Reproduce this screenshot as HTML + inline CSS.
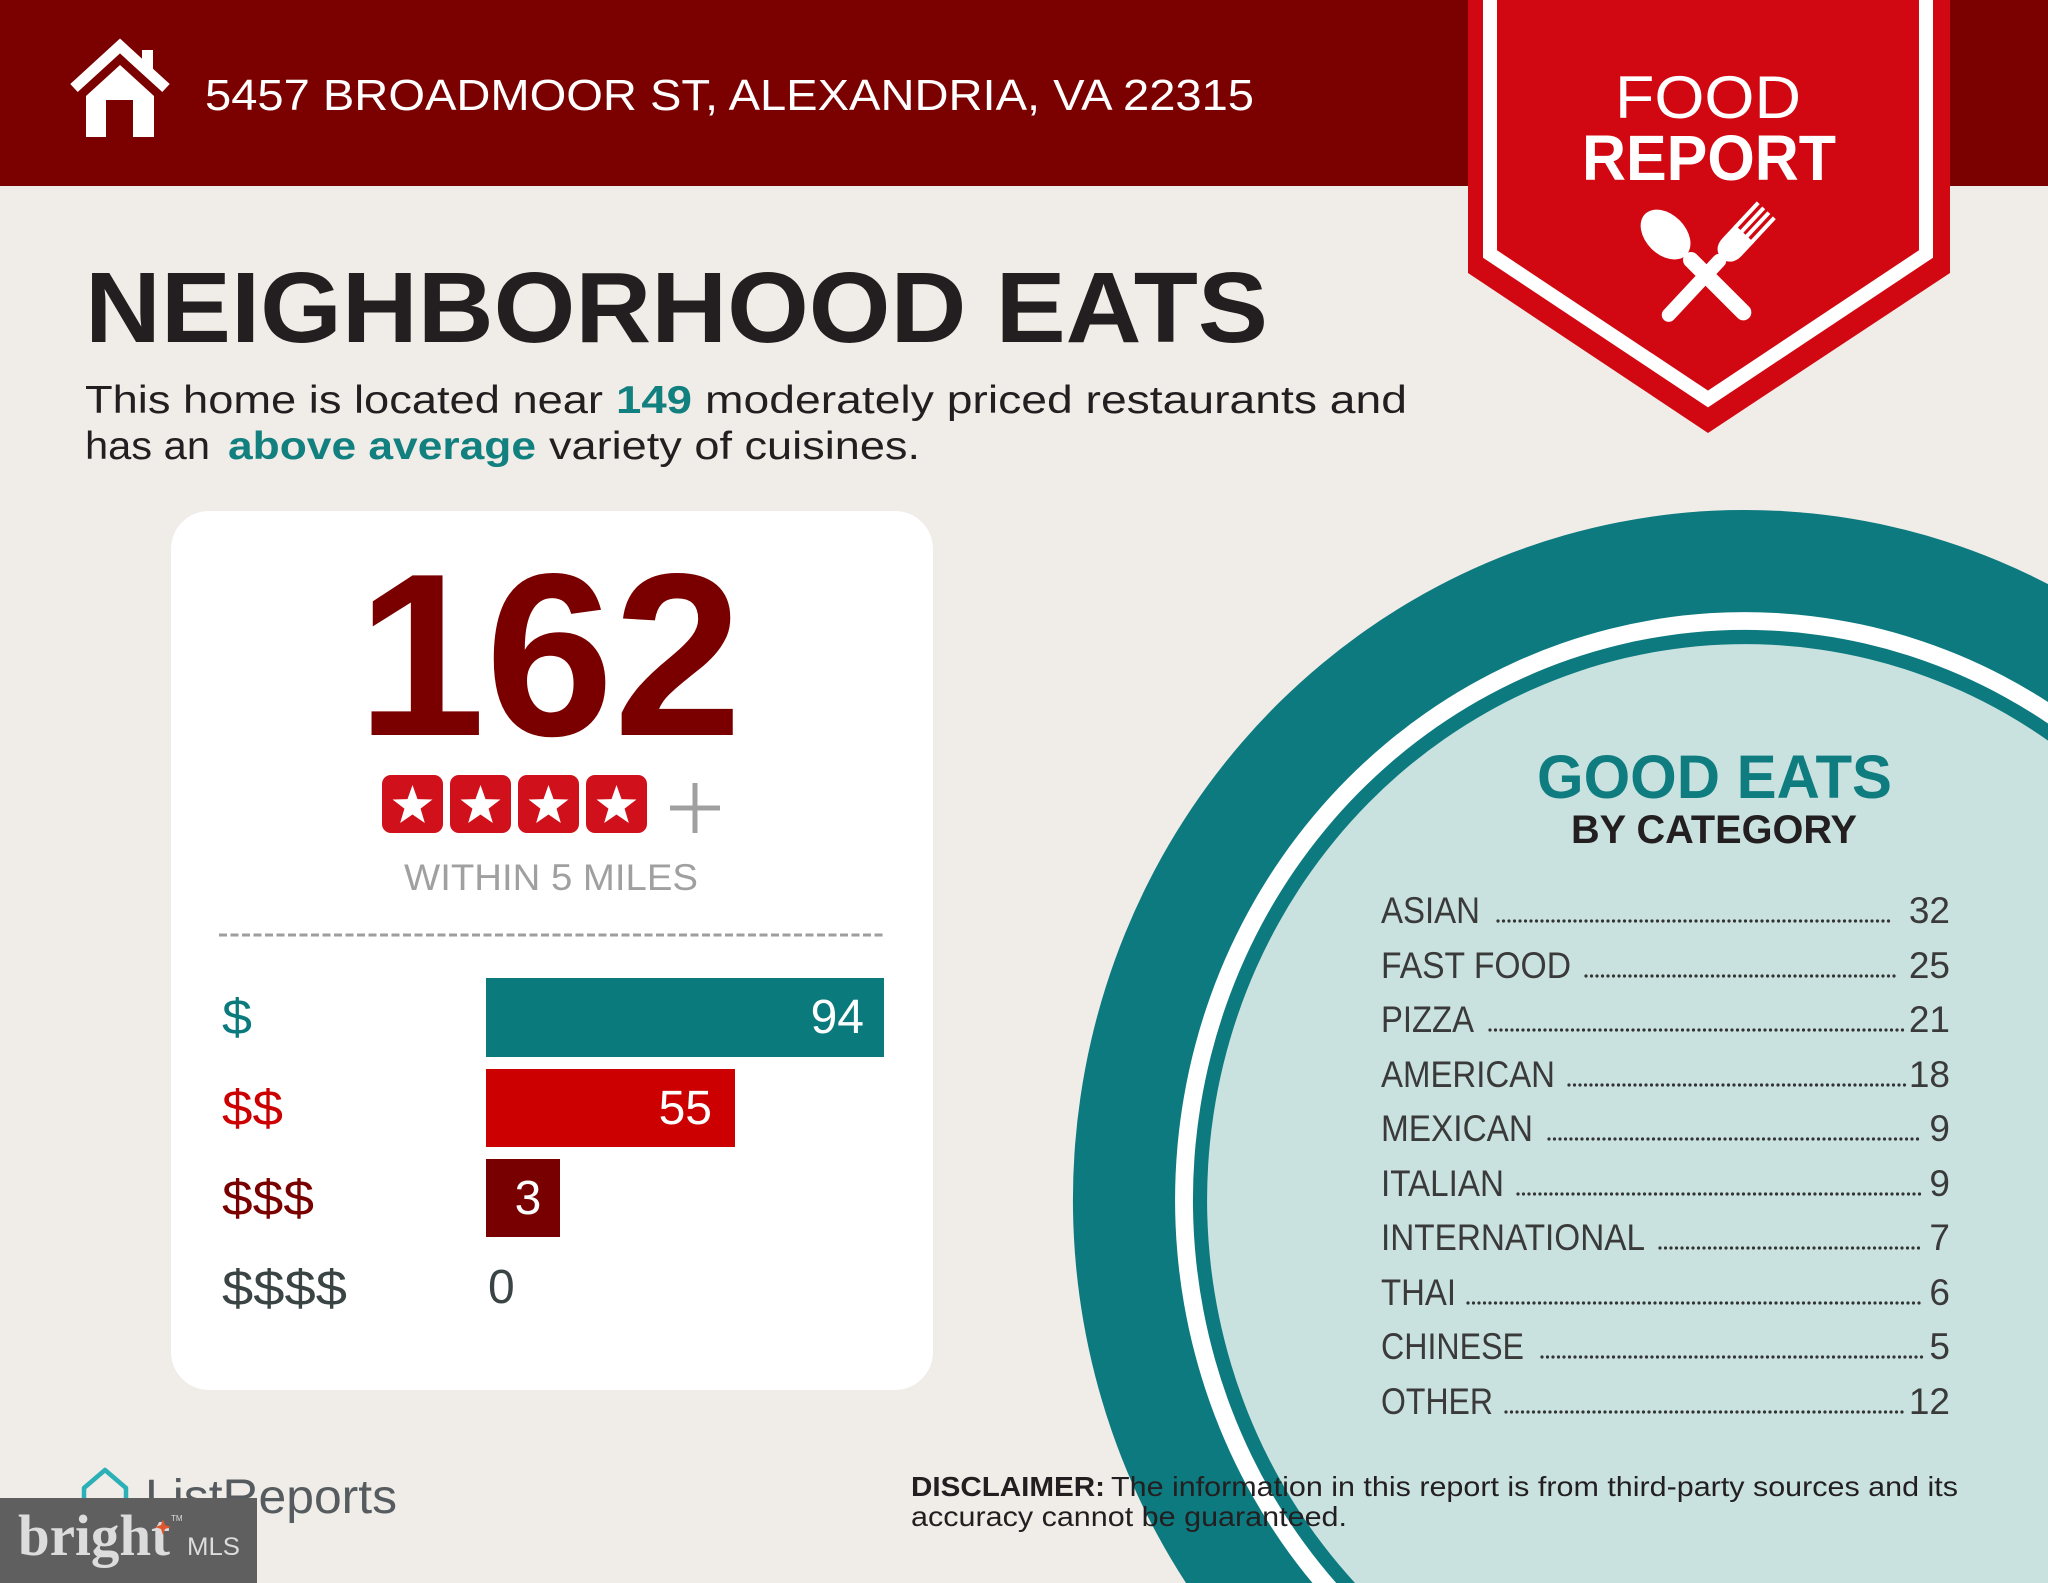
<!DOCTYPE html>
<html>
<head>
<meta charset="utf-8">
<style>
  html, body { margin: 0; padding: 0; background: #f0ece8; width: 2048px; height: 1583px; overflow: hidden; }
  svg { display: block; overflow: hidden; }
  text { font-family: "Liberation Sans", Arial, sans-serif; }
</style>
</head>
<body>
<svg width="2048" height="1583" viewBox="0 0 2048 1583" xmlns="http://www.w3.org/2000/svg">
  <defs>
    <path id="star" d="M0,-21 L5,-6.88 L19.97,-6.49 L8.08,2.63 L12.34,16.99 L0,8.5 L-12.34,16.99 L-8.08,2.63 L-19.97,-6.49 L-5,-6.88 Z" fill="#ffffff"/>
  </defs>

  <!-- background -->
  <rect x="0" y="0" width="2048" height="1583" fill="#f0ece8"/>

  <!-- header band -->
  <rect x="0" y="0" width="2048" height="186" fill="#7b0000"/>

  <!-- house icon -->
  <g fill="#ffffff">
    <polyline points="74,88 120,46 166,88" fill="none" stroke="#ffffff" stroke-width="11" stroke-linejoin="miter"/>
    <rect x="142" y="50" width="11" height="24"/>
    <polygon points="86,137 86,96 120,65 154,96 154,137"/>
    <rect x="106" y="100" width="27" height="38" fill="#7b0000"/>
  </g>

  <!-- address -->
  <text x="205" y="110" font-size="44" fill="#ffffff" textLength="1049" lengthAdjust="spacingAndGlyphs">5457 BROADMOOR ST, ALEXANDRIA, VA 22315</text>

  <!-- badge -->
  <polygon points="1468,0 1950,0 1950,273 1708,433 1468,273" fill="#d10812"/>
  <polyline points="1490,0 1490,254 1708,399 1926,254 1926,0" fill="none" stroke="#ffffff" stroke-width="14" stroke-linejoin="miter"/>
  <text x="1708" y="118" font-size="60" fill="#ffffff" text-anchor="middle" textLength="186" lengthAdjust="spacingAndGlyphs">FOOD</text>
  <text x="1709" y="180" font-size="64" font-weight="bold" fill="#ffffff" text-anchor="middle" textLength="254" lengthAdjust="spacingAndGlyphs">REPORT</text>

  <!-- fork -->
  <g transform="translate(1664,320) rotate(43)" fill="#ffffff">
    <rect x="-7" y="-88" width="14" height="88" rx="7"/>
    <path d="M-13,-118 L13,-118 L13,-100 Q13,-86 0,-84 Q-13,-86 -13,-100 Z"/>
    <rect x="-13" y="-150" width="4" height="34"/>
    <rect x="-5.5" y="-150" width="4" height="34"/>
    <rect x="1.5" y="-150" width="4" height="34"/>
    <rect x="9" y="-150" width="4" height="34"/>
  </g>
  <!-- spoon -->
  <g transform="translate(1749,318) rotate(-45)" fill="#ffffff">
    <rect x="-8" y="-90" width="16" height="90" rx="8"/>
    <ellipse cx="0" cy="-118" rx="20" ry="29"/>
  </g>

  <!-- title -->
  <text x="85" y="342" font-size="100" font-weight="bold" fill="#231f20" textLength="1183" lengthAdjust="spacingAndGlyphs">NEIGHBORHOOD EATS</text>

  <!-- paragraph -->
  <g font-size="39" fill="#231f20">
    <text x="85" y="413" textLength="518" lengthAdjust="spacingAndGlyphs">This home is located near</text>
    <text x="616" y="413" font-weight="bold" fill="#12807f" textLength="76" lengthAdjust="spacingAndGlyphs">149</text>
    <text x="705" y="413" textLength="702" lengthAdjust="spacingAndGlyphs">moderately priced restaurants and</text>
    <text x="85" y="459" textLength="125" lengthAdjust="spacingAndGlyphs">has an</text>
    <text x="228" y="459" font-weight="bold" fill="#12807f" textLength="308" lengthAdjust="spacingAndGlyphs">above average</text>
    <text x="549" y="459" textLength="371" lengthAdjust="spacingAndGlyphs">variety of cuisines.</text>
  </g>

  <!-- white card -->
  <rect x="171" y="511" width="762" height="879" rx="38" ry="38" fill="#ffffff"/>

  <text x="357" y="735" font-size="232" font-weight="bold" fill="#7a0000" textLength="385" lengthAdjust="spacingAndGlyphs">162</text>

  <!-- stars -->
  <g>
    <rect x="382" y="775" width="61" height="58" rx="9" fill="#d0111b"/>
    <rect x="450" y="775" width="61" height="58" rx="9" fill="#d0111b"/>
    <rect x="518" y="775" width="61" height="58" rx="9" fill="#d0111b"/>
    <rect x="586" y="775" width="61" height="58" rx="9" fill="#d0111b"/>
    <use href="#star" x="412.5" y="806"/>
    <use href="#star" x="480.5" y="806"/>
    <use href="#star" x="548.5" y="806"/>
    <use href="#star" x="616.5" y="806"/>
  </g>
  <g stroke="#a0a0a0" stroke-width="5">
    <line x1="670" y1="808" x2="720" y2="808"/>
    <line x1="695" y1="783" x2="695" y2="833"/>
  </g>

  <text x="404" y="890" font-size="37" fill="#a0a0a0" textLength="294" lengthAdjust="spacingAndGlyphs">WITHIN 5 MILES</text>

  <line x1="219" y1="935" x2="885" y2="935" stroke="#9e9e9e" stroke-width="3" stroke-dasharray="8 3.5"/>

  <!-- price bars -->
  <rect x="486" y="978" width="398" height="79" fill="#0b7a7c"/>
  <rect x="486" y="1069" width="249" height="78" fill="#cc0000"/>
  <rect x="486" y="1159" width="74" height="78" fill="#780000"/>

  <g font-size="50">
    <text x="222" y="1034" fill="#0b7a7c" textLength="30" lengthAdjust="spacingAndGlyphs">$</text>
    <text x="222" y="1125" fill="#cc0000" textLength="61" lengthAdjust="spacingAndGlyphs">$$</text>
    <text x="222" y="1215" fill="#7a0000" textLength="92" lengthAdjust="spacingAndGlyphs">$$$</text>
    <text x="222" y="1305" fill="#3b4444" textLength="125" lengthAdjust="spacingAndGlyphs">$$$$</text>
  </g>
  <g font-size="48" fill="#ffffff">
    <text x="864" y="1033" text-anchor="end">94</text>
    <text x="712" y="1124" text-anchor="end">55</text>
    <text x="528" y="1214" text-anchor="middle">3</text>
  </g>
  <text x="488" y="1303" font-size="48" fill="#3b4444">0</text>

  <!-- circle rings, trimmed at the frame edges -->
  <path d="M2048,584.1 A672,690 0 0 0 1186.0,1583 L2048,1583 Z" fill="#0c7a7f"/>
  <path d="M2048,702.0 A570,588 0 0 0 1312.5,1583 L2048,1583 Z" fill="#ffffff"/>
  <path d="M2048,723.5 A552,570 0 0 0 1336.2,1583 L2048,1583 Z" fill="#0c7a7f"/>
  <path d="M2048,740.6 A538,556 0 0 0 1355.0,1583 L2048,1583 Z" fill="#c9e2df"/>

  <text x="1537" y="798" font-size="61" font-weight="bold" fill="#0f7c80" textLength="355" lengthAdjust="spacingAndGlyphs">GOOD EATS</text>
  <text x="1571" y="843" font-size="40" font-weight="bold" fill="#231f20" textLength="286" lengthAdjust="spacingAndGlyphs">BY CATEGORY</text>

  <g font-size="37" fill="#3a3a3a">
    <text x="1381" y="923" textLength="99" lengthAdjust="spacingAndGlyphs">ASIAN</text>
    <text x="1950" y="923" text-anchor="end">32</text>
    <text x="1381" y="978" textLength="190" lengthAdjust="spacingAndGlyphs">FAST FOOD</text>
    <text x="1950" y="978" text-anchor="end">25</text>
    <text x="1381" y="1032" textLength="93" lengthAdjust="spacingAndGlyphs">PIZZA</text>
    <text x="1950" y="1032" text-anchor="end">21</text>
    <text x="1381" y="1087" textLength="174" lengthAdjust="spacingAndGlyphs">AMERICAN</text>
    <text x="1950" y="1087" text-anchor="end">18</text>
    <text x="1381" y="1141" textLength="152" lengthAdjust="spacingAndGlyphs">MEXICAN</text>
    <text x="1950" y="1141" text-anchor="end">9</text>
    <text x="1381" y="1196" textLength="123" lengthAdjust="spacingAndGlyphs">ITALIAN</text>
    <text x="1950" y="1196" text-anchor="end">9</text>
    <text x="1381" y="1250" textLength="264" lengthAdjust="spacingAndGlyphs">INTERNATIONAL</text>
    <text x="1950" y="1250" text-anchor="end">7</text>
    <text x="1381" y="1305" textLength="75" lengthAdjust="spacingAndGlyphs">THAI</text>
    <text x="1950" y="1305" text-anchor="end">6</text>
    <text x="1381" y="1359" textLength="143" lengthAdjust="spacingAndGlyphs">CHINESE</text>
    <text x="1950" y="1359" text-anchor="end">5</text>
    <text x="1381" y="1414" textLength="112" lengthAdjust="spacingAndGlyphs">OTHER</text>
    <text x="1950" y="1414" text-anchor="end">12</text>
  </g>
  <g stroke="#333333" stroke-width="3.2" stroke-linecap="round" stroke-dasharray="0 5.5">
    <line x1="1498" y1="921" x2="1894" y2="921"/>
    <line x1="1586" y1="976" x2="1898" y2="976"/>
    <line x1="1490" y1="1030" x2="1907" y2="1030"/>
    <line x1="1569" y1="1085" x2="1907" y2="1085"/>
    <line x1="1549" y1="1139" x2="1923" y2="1139"/>
    <line x1="1518" y1="1194" x2="1923" y2="1194"/>
    <line x1="1660" y1="1248" x2="1923" y2="1248"/>
    <line x1="1468" y1="1303" x2="1923" y2="1303"/>
    <line x1="1542" y1="1357" x2="1923" y2="1357"/>
    <line x1="1506" y1="1412" x2="1907" y2="1412"/>
  </g>

  <!-- disclaimer -->
  <g font-size="28" fill="#231f20">
    <text x="911" y="1496" font-weight="bold" textLength="194" lengthAdjust="spacingAndGlyphs">DISCLAIMER:</text>
    <text x="1111" y="1496" textLength="847" lengthAdjust="spacingAndGlyphs">The information in this report is from third-party sources and its</text>
    <text x="911" y="1526" textLength="436" lengthAdjust="spacingAndGlyphs">accuracy cannot be guaranteed.</text>
  </g>

  <!-- ListReports logo -->
  <path d="M84,1512 L84,1488 L105,1470 L126,1488 L126,1512" fill="none" stroke="#2ab0b6" stroke-width="4.5" stroke-linejoin="round"/>
  <text x="145" y="1513" font-size="48" fill="#555b5e" textLength="252" lengthAdjust="spacingAndGlyphs">ListReports</text>

  <!-- bright MLS box -->
  <rect x="0" y="1498" width="257" height="85" fill="#5f5f5f"/>
  <text x="18" y="1555" style="font-family: 'Liberation Serif', 'DejaVu Serif', serif; font-weight: bold;" font-size="58" fill="#dcdcdc" textLength="152" lengthAdjust="spacingAndGlyphs">bright</text>
  <path d="M163,1519 L165,1525 L171,1527 L165,1529 L163,1535 L161,1529 L155,1527 L161,1525 Z" fill="#e0552b"/>
  <text x="171" y="1521" font-size="8" fill="#dcdcdc">TM</text>
  <text x="187" y="1555" font-size="25" fill="#dcdcdc" textLength="53" lengthAdjust="spacingAndGlyphs">MLS</text>
</svg>
</body>
</html>
